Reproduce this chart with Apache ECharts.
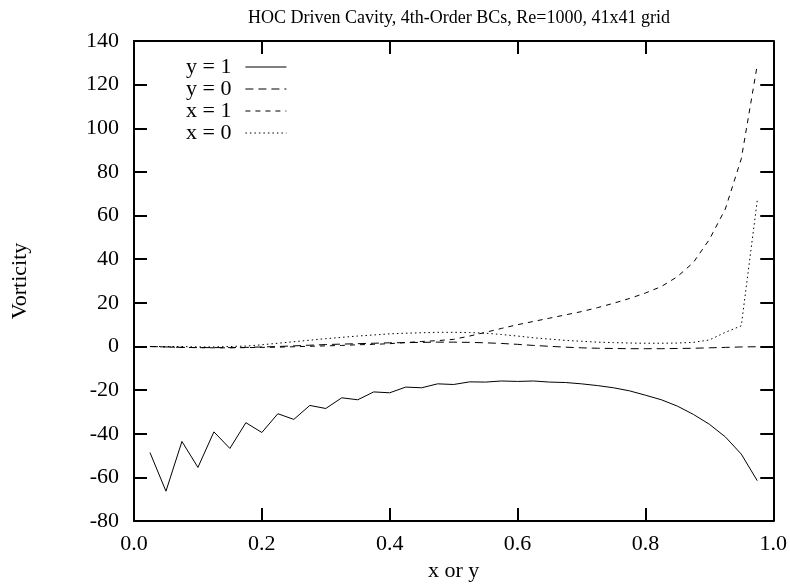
<!DOCTYPE html>
<html>
<head>
<meta charset="utf-8">
<script src="https://cdn.jsdelivr.net/npm/echarts@6/dist/echarts.min.js"></script>
<style>html,body{margin:0;padding:0;background:#fff}#c{width:790px;height:587px}</style>
</head>
<body>
<div id="c"></div>
<script>
var xs = [0.025,0.05,0.075,0.1,0.125,0.15,0.175,0.2,0.225,0.25,0.275,0.3,0.325,0.35,0.375,0.4,0.425,0.45,0.475,0.5,0.525,0.55,0.575,0.6,0.625,0.65,0.675,0.7,0.725,0.75,0.775,0.8,0.825,0.85,0.875,0.9,0.925,0.95,0.975];
var yTop = [-48.6,-66.3,-43.5,-55.4,-39.1,-46.7,-34.9,-39.4,-30.8,-33.4,-27.0,-28.4,-23.5,-24.4,-20.8,-21.2,-18.6,-18.9,-17.1,-17.4,-16.2,-16.3,-15.8,-16.0,-15.8,-16.3,-16.5,-17.1,-17.9,-18.9,-20.3,-22.3,-24.4,-27.3,-31.1,-35.6,-41.4,-49.3,-61.5];
var yBottom = [0,-0.2,-0.4,-0.5,-0.5,-0.5,-0.4,-0.2,0,0.3,0.6,0.9,1.1,1.3,1.5,1.7,1.8,1.9,2.0,2.0,1.9,1.7,1.4,1.0,0.5,0.1,-0.3,-0.6,-0.8,-0.9,-1.0,-1.0,-1.0,-0.9,-0.8,-0.6,-0.4,-0.2,-0.1];
var xRight = [0,-0.2,-0.4,-0.5,-0.6,-0.6,-0.5,-0.4,-0.3,-0.1,0.1,0.3,0.5,0.8,1.0,1.3,1.8,2.3,2.7,3.3,4.8,6.5,8.3,10.0,11.5,13.0,14.5,16.0,17.8,19.8,22.0,24.5,27.5,32.0,38.5,49.0,63.0,86.0,129.0];
var xLeft = [0,0,0,-0.2,-0.2,0,0.2,0.8,1.5,2.2,2.9,3.6,4.2,4.8,5.3,5.8,6.1,6.3,6.5,6.5,6.4,6.1,5.5,4.8,4.0,3.4,2.8,2.4,2.0,1.8,1.6,1.5,1.5,1.6,1.9,3.0,6.5,9.5,67.0];
var seriesNames = ['y = 1','y = 0','x = 1','x = 0'];
var xTicks = [0,0.2,0.4,0.6,0.8,1.0];
var yTicks = [-80,-60,-40,-20,0,20,40,60,80,100,120,140];

function pairs(v){ return xs.map(function(x,i){ return [x, v[i]]; }); }
var font = 'Liberation Serif';
var chart = echarts.init(document.getElementById('c'), null, {renderer:'canvas'});
var axisLine = {show:true, onZero:false, lineStyle:{color:'#000', width:2}};
var tick = {show:true, inside:true, length:13, lineStyle:{color:'#000', width:2}};
var lbl = {color:'#000', fontFamily:font, fontSize:22};
function xa(pos, show){
  return {type:'value', position:pos, min:xTicks[0], max:xTicks[xTicks.length-1], interval:0.2,
    axisLine:axisLine, axisTick:tick, splitLine:{show:false},
    axisLabel: show ? Object.assign({margin:12, formatter:function(v){return v.toFixed(1);}}, lbl) : {show:false},
    name: show ? 'x or y' : '', nameLocation:'middle', nameGap:36,
    nameTextStyle:{color:'#000', fontFamily:font, fontSize:22}};
}
function ya(pos, show){
  return {type:'value', position:pos, min:yTicks[0], max:yTicks[yTicks.length-1], interval:20,
    axisLine:axisLine, axisTick:tick, splitLine:{show:false},
    axisLabel: show ? Object.assign({margin:15}, lbl) : {show:false},
    name: show ? 'Vorticity' : '', nameLocation:'middle', nameGap:103, nameRotate:90,
    nameTextStyle:{color:'#000', fontFamily:font, fontSize:22}};
}
var styles = [
  {type:'solid'},
  {type:[8,5]},
  {type:[5,5]},
  {type:[1.5,3]}
];
var data = [yTop, yBottom, xRight, xLeft];
chart.setOption({
  animation:false,
  backgroundColor:'#fff',
  title:{text:'HOC Driven Cavity, 4th-Order BCs, Re=1000, 41x41 grid', left:454, top:4, textAlign:'center',
    textStyle:{color:'#000', fontFamily:font, fontSize:18, fontWeight:'normal'}},
  legend:{left:181, top:51, orient:'vertical', align:'right', itemWidth:41, itemHeight:12, itemGap:0,
    itemStyle:{opacity:0}, lineStyle:{width:1},
    textStyle:{color:'#000', fontFamily:font, fontSize:22, padding:[0,9,0,0]},
    data:seriesNames},
  grid:{left:134, right:16, top:41, bottom:63},
  xAxis:[xa('bottom', true), xa('top', false)],
  yAxis:[ya('left', true), ya('right', false)],
  series: seriesNames.map(function(n,i){
    return {name:n, type:'line', data:pairs(data[i]), symbol:'none', showSymbol:false,
      lineStyle:Object.assign({color:'#000', width:1}, styles[i]), itemStyle:{color:'#000'}, z:3};
  })
});
</script>
</body>
</html>
